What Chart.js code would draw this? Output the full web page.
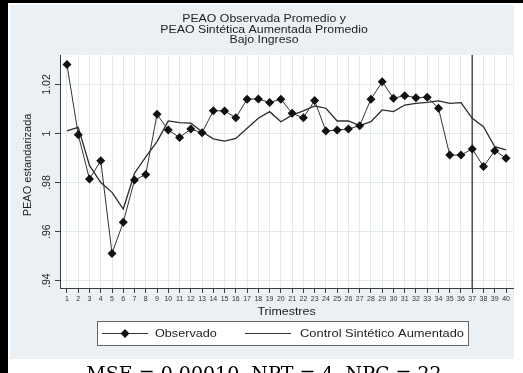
<!DOCTYPE html>
<html>
<head>
<meta charset="utf-8">
<script src="https://cdn.jsdelivr.net/npm/chart.js@4"></script>
<style>
  html, body { margin: 0; padding: 0; background: #fff; }
  canvas { display: block; }
</style>
</head>
<body>
<canvas id="chart" width="523" height="373"></canvas>
<script>
// Quarters (trimestres) on the x axis
const quarters = [1, 2, 3, 4, 5, 6, 7, 8, 9, 10, 11, 12, 13, 14, 15, 16, 17, 18, 19, 20,
                  21, 22, 23, 24, 25, 26, 27, 28, 29, 30, 31, 32, 33, 34, 35, 36, 37, 38, 39, 40];

// Observed average standardized PEAO, low income
const observed = [1.0281, 0.9995, 0.9814, 0.9889, 0.9511, 0.9638, 0.9810, 0.9833, 1.0078, 1.0014,
                  0.9984, 1.0018, 1.0003, 1.0093, 1.0092, 1.0064, 1.0140, 1.0141, 1.0126, 1.0140,
                  1.0082, 1.0064, 1.0134, 1.0010, 1.0014, 1.0018, 1.0032, 1.0140, 1.0211, 1.0144,
                  1.0154, 1.0146, 1.0148, 1.0103, 0.9912, 0.9912, 0.9937, 0.9865, 0.9930, 0.9899];

// Augmented synthetic control
const synthetic = [1.0011, 1.0025, 0.9870, 0.9800, 0.9760, 0.9692, 0.9838, 0.9905, 0.9967, 1.0051,
                   1.0044, 1.0042, 1.0007, 0.9978, 0.9969, 0.9980, 1.0021, 1.0062, 1.0089, 1.0048,
                   1.0075, 1.0092, 1.0112, 1.0103, 1.0051, 1.0051, 1.0032, 1.0048, 1.0096, 1.0089,
                   1.0116, 1.0123, 1.0127, 1.0133, 1.0123, 1.0126, 1.0062, 1.0028, 0.9946, 0.9933];

const yTickValues = [0.94, 0.96, 0.98, 1, 1.02];
const yTickLabels = ['.94', '.96', '.98', '1', '1.02'];
const treatmentQuarter = 37;

const titleLines = ['PEAO Observada Promedio y', 'PEAO Sintética Aumentada Promedio', 'Bajo Ingreso'];
const xTitle = 'Trimestres';
const yTitle = 'PEAO estandarizada';
const legendLabels = ['Observado', 'Control Sintético Aumentado'];
const footnote = 'MSE = 0.00010, NPT = 4, NPC = 22';

const SANS = '"Liberation Sans", Arial, sans-serif';
const SERIF = '"DejaVu Serif", "Liberation Serif", serif';
const PANEL = '#eaf0f3';
const GRID = '#e3eaee';
const AXIS = '#3c3c3c';
const TEXT = '#1e1e1e';

function diamond(ctx, x, y, r) {
  ctx.beginPath();
  ctx.moveTo(x, y - r);
  ctx.lineTo(x + r, y);
  ctx.lineTo(x, y + r);
  ctx.lineTo(x - r, y);
  ctx.closePath();
  ctx.fill();
}

// Text drawn slightly wide, as in the exported graph
function wideText(ctx, text, x, y, align, stretch) {
  ctx.save();
  ctx.translate(x, y);
  ctx.scale(stretch, 1);
  ctx.textAlign = align;
  ctx.fillText(text, 0, 0);
  ctx.restore();
}

const decor = {
  id: 'decor',
  beforeDraw(chart) {
    const ctx = chart.ctx;
    const a = chart.chartArea;
    ctx.save();
    ctx.fillStyle = '#fff';
    ctx.fillRect(0, 0, chart.width, chart.height);
    // outer frame
    ctx.fillStyle = '#000';
    ctx.fillRect(0, 0, chart.width, 3);
    ctx.fillRect(0, 0, 8, chart.height);
    // graph panel
    ctx.fillStyle = PANEL;
    ctx.fillRect(10, 5, 504, 354);
    // plot region
    ctx.fillStyle = '#fff';
    ctx.fillRect(a.left, a.top, a.right - a.left, a.bottom - a.top);
    ctx.restore();
  },
  beforeDatasetsDraw(chart) {
    const ctx = chart.ctx;
    const a = chart.chartArea;
    const x = chart.scales.x.getPixelForValue(treatmentQuarter);
    ctx.save();
    ctx.strokeStyle = '#555';
    ctx.lineWidth = 1.6;
    ctx.beginPath();
    ctx.moveTo(x, a.top);
    ctx.lineTo(x, a.bottom);
    ctx.stroke();
    ctx.restore();
  },
  afterDraw(chart) {
    const ctx = chart.ctx;
    const a = chart.chartArea;
    const ys = chart.scales.y;
    ctx.save();
    ctx.fillStyle = TEXT;

    // title
    ctx.font = '11px ' + SANS;
    ctx.textBaseline = 'middle';
    const titleY = [19, 29.5, 40];
    titleLines.forEach((t, i) => wideText(ctx, t, 264, titleY[i], 'center', 1.12));

    // y tick labels, rotated
    ctx.font = '10.5px ' + SANS;
    yTickValues.forEach((v, i) => {
      const y = ys.getPixelForValue(v);
      ctx.save();
      ctx.translate(47, y);
      ctx.rotate(-Math.PI / 2);
      ctx.textAlign = 'center';
      ctx.textBaseline = 'middle';
      ctx.fillText(yTickLabels[i], 0, 0);
      ctx.restore();
    });

    // y title
    ctx.save();
    ctx.translate(28, 165);
    ctx.rotate(-Math.PI / 2);
    ctx.font = '11px ' + SANS;
    ctx.textAlign = 'center';
    ctx.textBaseline = 'middle';
    ctx.fillText(yTitle, 0, 0);
    ctx.restore();

    // x title
    ctx.font = '11.5px ' + SANS;
    ctx.textBaseline = 'middle';
    wideText(ctx, xTitle, (a.left + a.right) / 2, 312, 'center', 1.08);

    // legend
    const bx = 97, by = 321, bw = 371, bh = 24;
    ctx.fillStyle = '#fff';
    ctx.fillRect(bx, by, bw, bh);
    ctx.strokeStyle = '#666';
    ctx.lineWidth = 1;
    ctx.strokeRect(bx + 0.5, by + 0.5, bw, bh);
    const ly = by + bh / 2 + 0.5;
    ctx.strokeStyle = '#333';
    ctx.lineWidth = 1.2;
    ctx.beginPath();
    ctx.moveTo(102, ly); ctx.lineTo(148, ly);
    ctx.moveTo(245, ly); ctx.lineTo(291, ly);
    ctx.stroke();
    ctx.fillStyle = '#111';
    diamond(ctx, 125, ly, 4.5);
    ctx.fillStyle = TEXT;
    ctx.font = '11.5px ' + SANS;
    ctx.textBaseline = 'middle';
    wideText(ctx, legendLabels[0], 155, ly, 'left', 1.1);
    wideText(ctx, legendLabels[1], 300, ly, 'left', 1.12);

    // footnote below the graph panel
    ctx.fillStyle = '#000';
    ctx.font = '19px ' + SERIF;
    ctx.textAlign = 'center';
    ctx.textBaseline = 'alphabetic';
    ctx.fillText(footnote, 264, 380);
    ctx.restore();
  }
};

const chart = new Chart(document.getElementById('chart'), {
  type: 'line',
  data: {
    datasets: [
      {
        label: legendLabels[0],
        data: quarters.map((q, i) => ({ x: q, y: observed[i] })),
        borderColor: '#333',
        borderWidth: 1,
        pointStyle: 'rectRot',
        pointRadius: 4.5,
        pointBackgroundColor: '#111',
        pointBorderColor: '#111',
        pointBorderWidth: 0,
        tension: 0,
        clip: 8
      },
      {
        label: legendLabels[1],
        data: quarters.map((q, i) => ({ x: q, y: synthetic[i] })),
        borderColor: '#2b2b2b',
        borderWidth: 1.3,
        pointRadius: 0,
        tension: 0,
        clip: 8
      }
    ]
  },
  options: {
    responsive: false,
    animation: false,
    devicePixelRatio: 1,
    layout: { padding: { left: 10, right: 10, top: 55, bottom: 65 } },
    plugins: {
      legend: { display: false },
      title: { display: false },
      tooltip: { enabled: false }
    },
    scales: {
      x: {
        type: 'linear',
        min: 0.38,
        max: 40.62,
        afterBuildTicks: s => { s.ticks = quarters.map(v => ({ value: v })); },
        afterFit: s => { s.height = 20; },
        grid: { color: GRID, lineWidth: 1, tickLength: 5, tickColor: AXIS, drawTicks: true },
        border: { display: true, color: AXIS, width: 1 },
        ticks: {
          autoSkip: false, maxRotation: 0, minRotation: 0, padding: 2,
          color: '#333', font: { size: 7, family: SANS },
          callback: v => String(v)
        }
      },
      y: {
        type: 'linear',
        min: 0.937,
        max: 1.032,
        afterBuildTicks: s => { s.ticks = yTickValues.map(v => ({ value: v })); },
        afterFit: s => { s.width = 50; },
        grid: { color: GRID, lineWidth: 1, tickLength: 5, tickColor: AXIS, drawTicks: true },
        border: { display: true, color: AXIS, width: 1 },
        ticks: { display: false }
      }
    }
  },
  plugins: [decor]
});
</script>
</body>
</html>
